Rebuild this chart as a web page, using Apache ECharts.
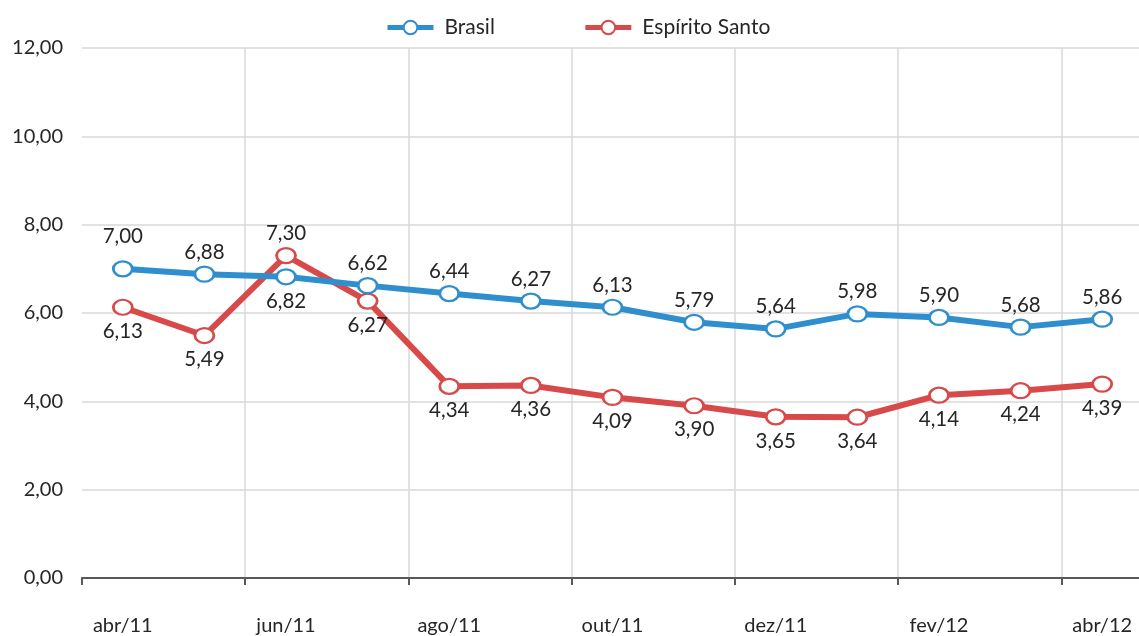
<!DOCTYPE html>
<html><head><meta charset="utf-8">
<script src="https://cdn.jsdelivr.net/npm/echarts@6/dist/echarts.min.js"></script>
<style>html,body{margin:0;padding:0;background:#fff;overflow:hidden}#c{width:1143px;height:636px}</style>
</head><body><div id="c"></div>
<script>
const categories = ['abr/11','mai/11','jun/11','jul/11','ago/11','set/11','out/11','nov/11','dez/11','jan/12','fev/12','mar/12','abr/12'];
const brasil = [7.00, 6.88, 6.82, 6.62, 6.44, 6.27, 6.13, 5.79, 5.64, 5.98, 5.90, 5.68, 5.86];
const espiritoSanto = [6.13, 5.49, 7.30, 6.27, 4.34, 4.36, 4.09, 3.90, 3.65, 3.64, 4.14, 4.24, 4.39];
const brasilBelow = [2];
const esAbove = [2];

const fmt = v => v.toFixed(2).replace('.', ',');
const font = 'Lato, "Open Sans", sans-serif';

function mk(name, data, color, defPos, flipIdx, flipPos) {
  return {
    name, type: 'line', data: data.map((v, i) => {
      const pos = flipIdx.includes(i) ? flipPos : defPos;
      let dist = pos === 'top' ? 3 : 5;
      if (name === 'Brasil' && i === 0) dist = 13;
      return { value: v, label: { position: pos, distance: dist } };
    }),
    symbol: 'circle', symbolSize: [19, 15],
    lineStyle: { color, width: 6 },
    itemStyle: { color: '#fff', borderColor: color, borderWidth: 2.5 },
    label: { show: true, formatter: p => fmt(p.value), fontFamily: font, fontSize: 20.5, color: '#262626' },
    z: name === 'Brasil' ? 3 : 2
  };
}

const chart = echarts.init(document.getElementById('c'));
chart.setOption({
  animation: false,
  color: ['#2f8fce', '#d84a4a'],
  legend: {
    top: 12, left: 380, itemWidth: 46, itemHeight: 17, itemGap: 88,
    lineStyle: { width: 5 },
    textStyle: { fontFamily: font, fontSize: 21, color: '#262626', padding: [0, 0, 0, 6] },
    data: ['Brasil', 'Espírito Santo']
  },
  grid: { left: 82, right: 0, top: 48, bottom: 58, containLabel: false },
  xAxis: {
    type: 'category', data: categories, boundaryGap: true,
    axisLine: { lineStyle: { color: '#595959', width: 2 } },
    axisTick: { show: true, interval: 1, length: 7, lineStyle: { color: '#595959', width: 2 } },
    axisLabel: { interval: 1, margin: 38, fontFamily: font, fontSize: 20, color: '#262626' },
    splitLine: { show: true, interval: 1, showMinLine: false, lineStyle: { color: '#d9d9d9', width: 1.5 } }
  },
  yAxis: {
    type: 'value', min: 0, max: 12, interval: 2,
    axisLine: { show: false }, axisTick: { show: false },
    axisLabel: { formatter: v => fmt(v), margin: 19, fontFamily: font, fontSize: 20, color: '#262626' },
    splitLine: { lineStyle: { color: '#d9d9d9', width: 1.5 } }
  },
  series: [
    mk('Brasil', brasil, '#2f8fce', 'top', brasilBelow, 'bottom'),
    mk('Espírito Santo', espiritoSanto, '#d84a4a', 'bottom', esAbove, 'top')
  ]
});
</script></body></html>
